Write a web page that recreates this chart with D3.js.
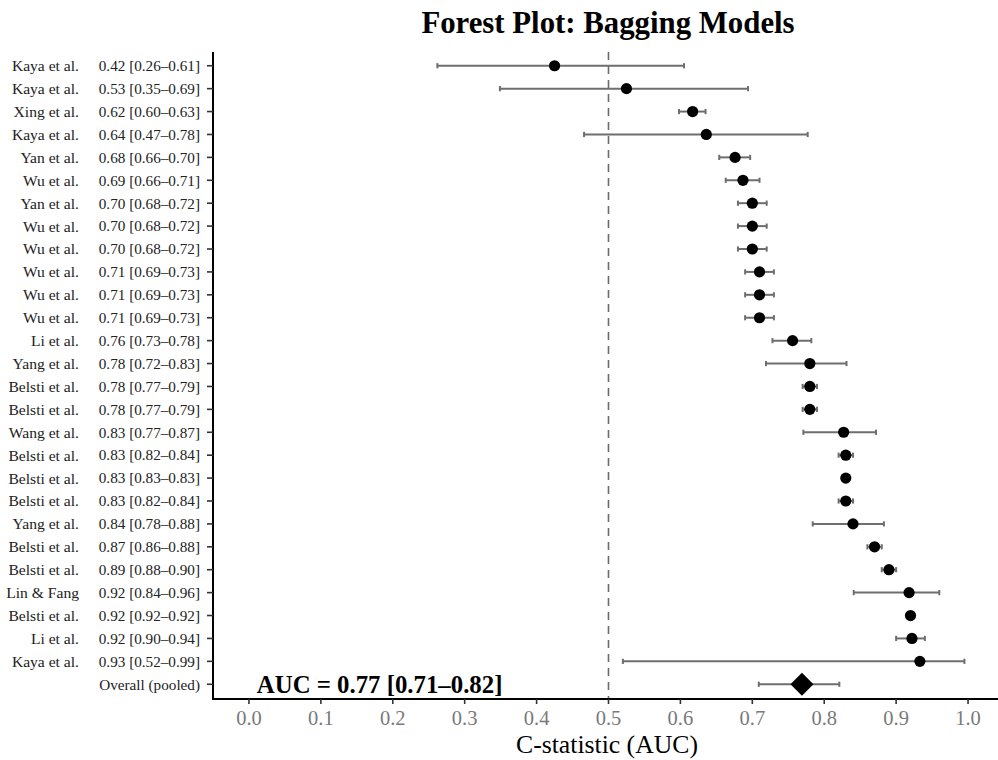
<!DOCTYPE html>
<html>
<head>
<meta charset="utf-8">
<script src="https://cdn.jsdelivr.net/npm/d3@7"></script>
<style>
html,body{margin:0;padding:0;background:#fff;}
svg{display:block;}
text{font-family:"Liberation Serif","Times New Roman",serif;}
</style>
</head>
<body>
<svg id="chart" width="998" height="760"></svg>
<script>
// ---- data ----
const studies = ["Kaya et al.","Kaya et al.","Xing et al.","Kaya et al.","Yan et al.","Wu et al.","Yan et al.","Wu et al.","Wu et al.","Wu et al.","Wu et al.","Wu et al.","Li et al.","Yang et al.","Belsti et al.","Belsti et al.","Wang et al.","Belsti et al.","Belsti et al.","Belsti et al.","Yang et al.","Belsti et al.","Belsti et al.","Lin & Fang","Belsti et al.","Li et al.","Kaya et al."];
const ciLabels = ["0.42 [0.26–0.61]","0.53 [0.35–0.69]","0.62 [0.60–0.63]","0.64 [0.47–0.78]","0.68 [0.66–0.70]","0.69 [0.66–0.71]","0.70 [0.68–0.72]","0.70 [0.68–0.72]","0.70 [0.68–0.72]","0.71 [0.69–0.73]","0.71 [0.69–0.73]","0.71 [0.69–0.73]","0.76 [0.73–0.78]","0.78 [0.72–0.83]","0.78 [0.77–0.79]","0.78 [0.77–0.79]","0.83 [0.77–0.87]","0.83 [0.82–0.84]","0.83 [0.83–0.83]","0.83 [0.82–0.84]","0.84 [0.78–0.88]","0.87 [0.86–0.88]","0.89 [0.88–0.90]","0.92 [0.84–0.96]","0.92 [0.92–0.92]","0.92 [0.90–0.94]","0.93 [0.52–0.99]"];
const estimates = [0.425,0.525,0.617,0.636,0.676,0.687,0.700,0.700,0.700,0.710,0.710,0.710,0.756,0.780,0.780,0.780,0.827,0.830,0.830,0.830,0.840,0.870,0.890,0.918,0.920,0.922,0.933];
const lowers    = [0.262,0.349,0.598,0.466,0.654,0.663,0.680,0.680,0.680,0.690,0.690,0.690,0.728,0.719,0.770,0.770,0.771,0.820,0.830,0.820,0.784,0.860,0.880,0.841,0.920,0.900,0.520];
const uppers    = [0.605,0.694,0.635,0.777,0.697,0.710,0.720,0.720,0.720,0.730,0.730,0.730,0.782,0.831,0.790,0.790,0.872,0.840,0.830,0.840,0.883,0.880,0.900,0.960,0.920,0.940,0.995];
const pooledLabel = "Overall (pooled)";
const pooled = {est:0.769, lo:0.709, hi:0.821};
const pooledText = "AUC = 0.77 [0.71–0.82]";
const xTicks = [0,0.1,0.2,0.3,0.4,0.5,0.6,0.7,0.8,0.9,1.0];
const refLine = 0.5;
const titleText = "Forest Plot: Bagging Models";
const xTitle = "C-statistic (AUC)";

// ---- layout ----
const svg = d3.select("#chart");
const pLeft = 213, pRight = 1004, pTop = 52, pBottom = 698;
const x = d3.scaleLinear().domain([-0.05,1.05]).range([pLeft,pRight]);
const rows = d3.range(studies.length + 1);
const y = d3.scalePoint().domain(rows).range([pTop,pBottom]).padding(0.6);

const rowsData = studies.map((s,i)=>({name:s, lab:ciLabels[i], est:estimates[i], lo:lowers[i], hi:uppers[i], idx:i}));

// reference line
svg.append("line")
  .attr("x1",x(refLine)).attr("x2",x(refLine))
  .attr("y1",pTop).attr("y2",pBottom)
  .attr("stroke","#6b6b6b").attr("stroke-width",1.6)
  .attr("stroke-dasharray","8,6");

// error bars
const capH = 2.6;
const allBars = rowsData.map(d=>({lo:d.lo,hi:d.hi,idx:d.idx})).concat([{lo:pooled.lo,hi:pooled.hi,idx:studies.length}]);
const eb = svg.append("g").attr("stroke","#6e6e6e").attr("stroke-width",2);
allBars.forEach(d=>{
  const yy = y(d.idx);
  eb.append("line").attr("x1",x(d.lo)).attr("x2",x(d.hi)).attr("y1",yy).attr("y2",yy);
  eb.append("line").attr("x1",x(d.lo)).attr("x2",x(d.lo)).attr("y1",yy-capH).attr("y2",yy+capH);
  eb.append("line").attr("x1",x(d.hi)).attr("x2",x(d.hi)).attr("y1",yy-capH).attr("y2",yy+capH);
});

// points
svg.append("g").selectAll("circle").data(rowsData).join("circle")
  .attr("cx",d=>x(d.est)).attr("cy",d=>y(d.idx)).attr("r",5.6).attr("fill","#000");

// pooled diamond
const dx = 11.5, dy = 11.5;
const px = x(pooled.est), py = y(studies.length);
svg.append("path")
  .attr("d",`M${px-dx},${py}L${px},${py-dy}L${px+dx},${py}L${px},${py+dy}Z`)
  .attr("fill","#000");

// pooled text
svg.append("text")
  .attr("x",x(0.011)).attr("y",py+9)
  .attr("font-size",24.8).attr("font-weight","bold").attr("fill","#000")
  .text(pooledText);

// axes lines
svg.append("line").attr("x1",pLeft).attr("x2",pLeft).attr("y1",pTop).attr("y2",pBottom+1)
  .attr("stroke","#000").attr("stroke-width",2);
svg.append("line").attr("x1",pLeft-1).attr("x2",998).attr("y1",pBottom+1).attr("y2",pBottom+1)
  .attr("stroke","#000").attr("stroke-width",2);

// x ticks
const xa = svg.append("g");
xTicks.forEach(t=>{
  xa.append("line").attr("x1",x(t)).attr("x2",x(t)).attr("y1",pBottom+1).attr("y2",pBottom+6)
    .attr("stroke","#333").attr("stroke-width",1.6);
  xa.append("text").attr("x",x(t)).attr("y",pBottom+27).attr("text-anchor","middle")
    .attr("font-size",20.5).attr("fill","#7a7a7a").text(d3.format(".1f")(t));
});

// y ticks & labels
const ya = svg.append("g");
rows.forEach(i=>{
  const yy = y(i);
  ya.append("line").attr("x1",pLeft-6).attr("x2",pLeft).attr("y1",yy).attr("y2",yy)
    .attr("stroke","#333").attr("stroke-width",1.6);
});
rowsData.forEach(d=>{
  ya.append("text").attr("x",79).attr("y",y(d.idx)).attr("dy","0.35em").attr("text-anchor","end")
    .attr("font-size",15.6).attr("fill","#222").text(d.name);
  ya.append("text").attr("x",200).attr("y",y(d.idx)).attr("dy","0.35em").attr("text-anchor","end")
    .attr("font-size",15.2).attr("fill","#222").text(d.lab);
});
ya.append("text").attr("x",200).attr("y",py).attr("dy","0.35em").attr("text-anchor","end")
  .attr("font-size",15.2).attr("fill","#222").text(pooledLabel);

// titles
svg.append("text").attr("x",608).attr("y",33).attr("text-anchor","middle")
  .attr("font-size",30.8).attr("font-weight","bold").attr("fill","#000").text(titleText);
svg.append("text").attr("x",607).attr("y",753).attr("text-anchor","middle")
  .attr("font-size",25.7).attr("fill","#000").text(xTitle);
</script>
</body>
</html>
